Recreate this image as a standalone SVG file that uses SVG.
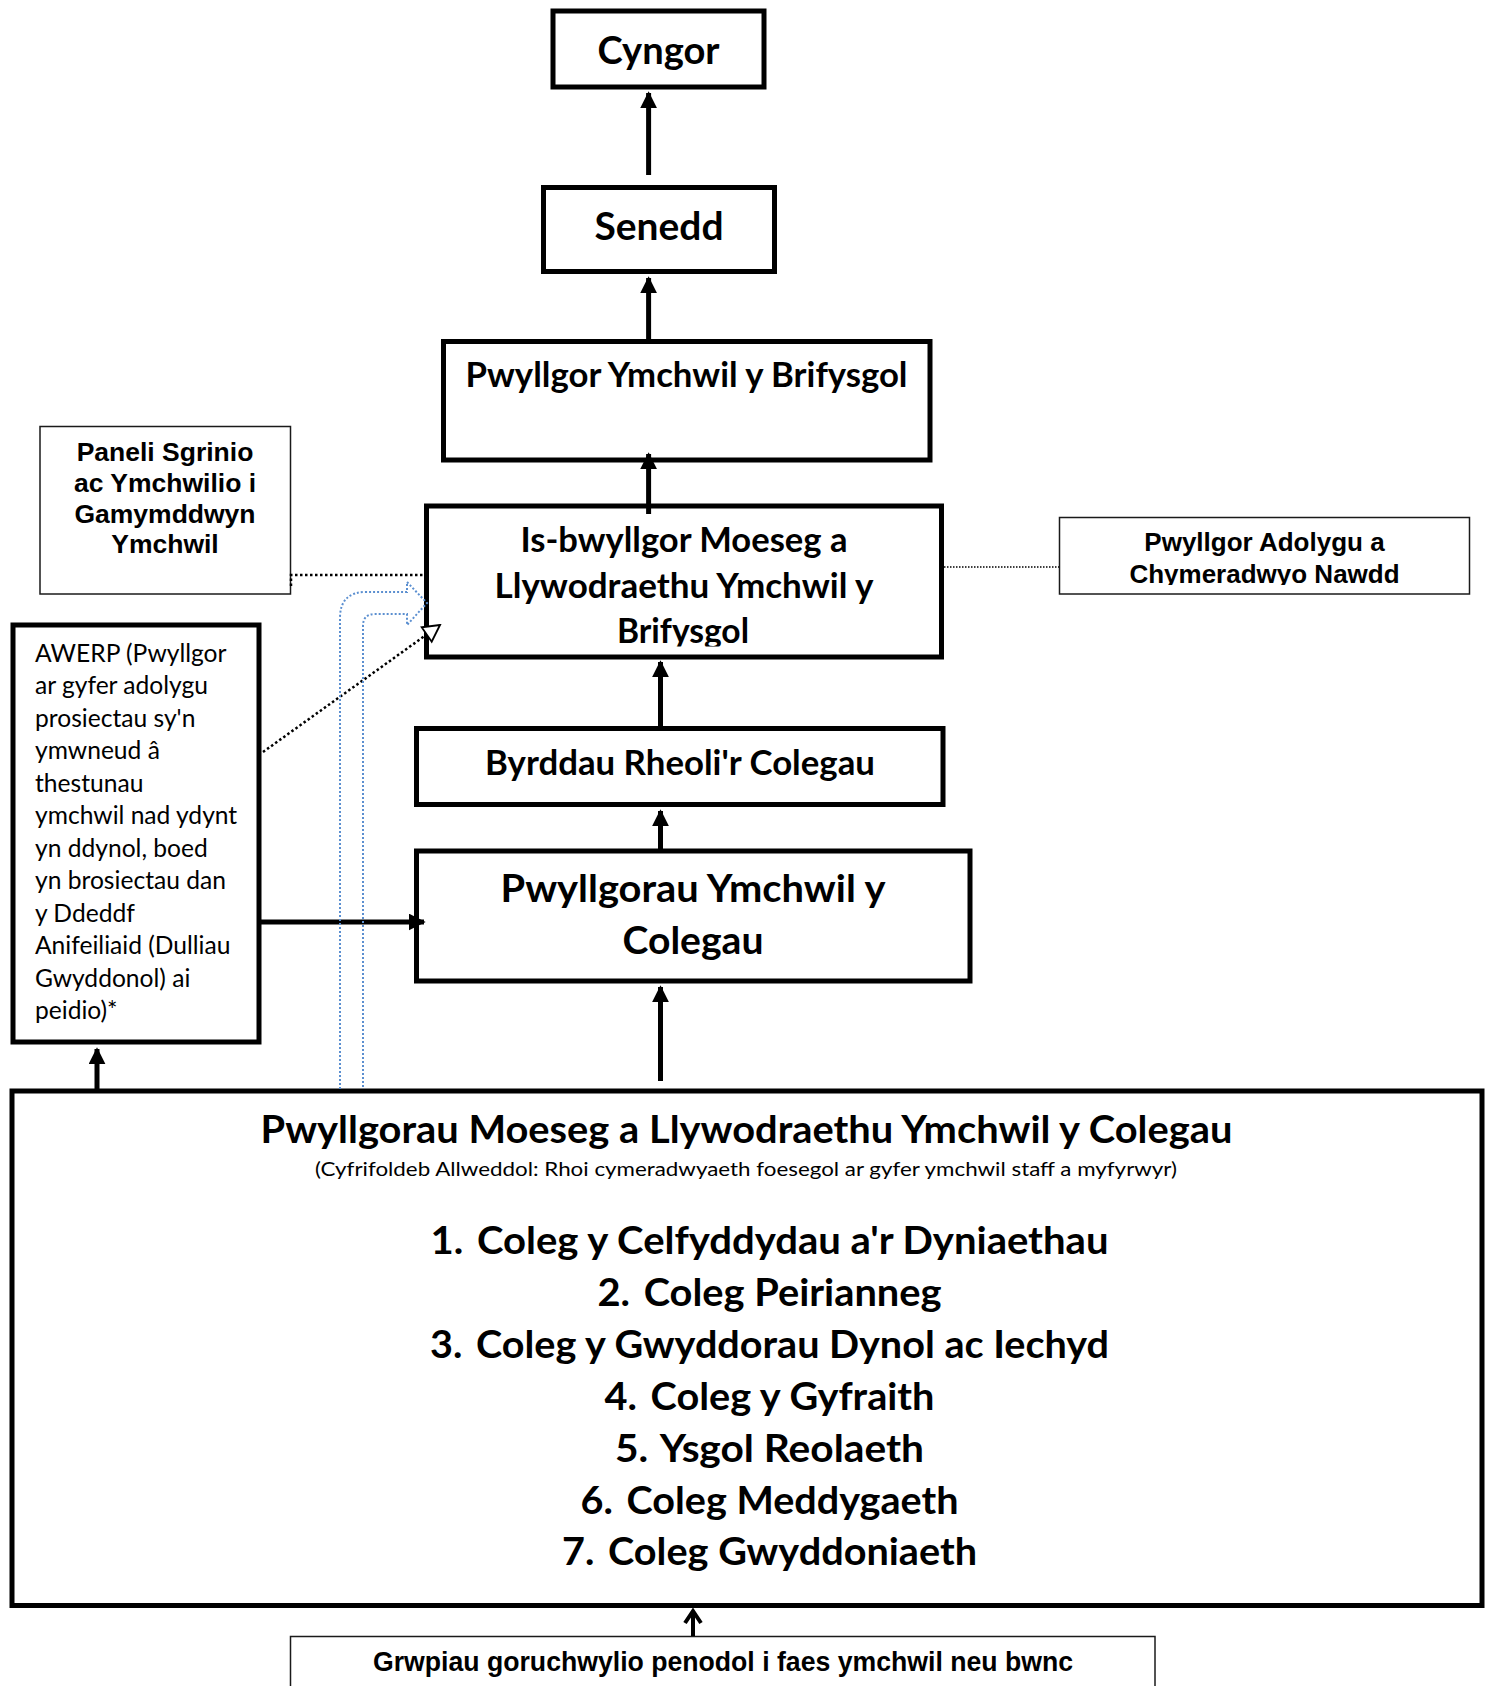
<svg xmlns="http://www.w3.org/2000/svg" width="1491" height="1686" viewBox="0 0 1491 1686">
<style>
  .box{fill:#fff;stroke:#000;stroke-width:5}
  .thin{fill:#fff;stroke:#1a1a1a;stroke-width:1.5}
  .hb{font-family:Lato,"Open Sans","Noto Sans",sans-serif;font-weight:bold;fill:#000;text-anchor:middle}
  .hr{font-family:Lato,"Open Sans","Noto Sans",sans-serif;font-weight:normal;fill:#000}
  .ab{font-family:"Liberation Sans",Arial,sans-serif;font-weight:bold;fill:#000;text-anchor:middle}
  .conn{stroke:#000;stroke-width:5;fill:none}
  .dot{stroke:#000;stroke-width:2.5;stroke-dasharray:2.5 2.5;fill:none}
  .dotthin{stroke:#000;stroke-width:1.5;stroke-dasharray:1.5 1.5;fill:none}
  .blue{stroke:#5b8fd0;stroke-width:2;stroke-dasharray:2 2;fill:none}
</style>
<defs>
  <marker id="ah" viewBox="0 0 10 10" refX="9" refY="5" markerWidth="3.4" markerHeight="3.4" markerUnits="strokeWidth" orient="auto">
    <path d="M0,0 L10,5 L0,10 z" fill="#000"/>
  </marker>
  <clipPath id="clipIs"><rect x="420" y="500" width="530" height="146.5"/></clipPath>
  <clipPath id="clipAd"><rect x="1055" y="510" width="420" height="75"/></clipPath>
</defs>

<g id="node-cyngor">
  <rect class="box" x="553" y="11" width="211" height="76"/>
  <text class="hb" x="658.5" y="64" font-size="37.5" textLength="122" lengthAdjust="spacingAndGlyphs">Cyngor</text>
</g>

<g id="node-senedd">
  <rect class="box" x="543.5" y="187.5" width="231" height="84"/>
  <text class="hb" x="659" y="240" font-size="37.5" textLength="129" lengthAdjust="spacingAndGlyphs">Senedd</text>
</g>

<g id="node-pwyllgor-ymchwil-brifysgol">
  <rect class="box" x="443.5" y="341.5" width="486.5" height="118.5"/>
  <text class="hb" x="686.5" y="387" font-size="33.5" textLength="442" lengthAdjust="spacingAndGlyphs">Pwyllgor Ymchwil y Brifysgol</text>
</g>

<g id="node-is-bwyllgor">
  <rect class="box" x="426.5" y="506" width="515" height="151"/>
  <g clip-path="url(#clipIs)">
    <text class="hb" x="684" y="552" font-size="33.5" textLength="327" lengthAdjust="spacingAndGlyphs">Is-bwyllgor Moeseg a</text>
    <text class="hb" x="684" y="598" font-size="33.5" textLength="379" lengthAdjust="spacingAndGlyphs">Llywodraethu Ymchwil y</text>
    <text class="hb" x="683" y="643" font-size="33.5" textLength="132" lengthAdjust="spacingAndGlyphs">Brifysgol</text>
  </g>
</g>

<g id="node-paneli">
  <rect class="thin" x="40" y="426.5" width="250.5" height="167.5"/>
  <text class="ab" x="165" y="461" font-size="26.5">Paneli Sgrinio</text>
  <text class="ab" x="165" y="492" font-size="26.5">ac Ymchwilio i</text>
  <text class="ab" x="165" y="523" font-size="26.5">Gamymddwyn</text>
  <text class="ab" x="165" y="553" font-size="26.5">Ymchwil</text>
</g>

<g id="node-adolygu">
  <rect class="thin" x="1059.5" y="517.5" width="410" height="76.5"/>
  <g clip-path="url(#clipAd)">
    <text class="ab" x="1264.5" y="551" font-size="26">Pwyllgor Adolygu a</text>
    <text class="ab" x="1264.5" y="583" font-size="26">Chymeradwyo Nawdd</text>
  </g>
</g>

<g id="node-awerp">
  <rect class="box" x="13" y="625" width="246" height="417"/>
  <g class="hr" font-size="24.6">
    <text x="35" y="661.5">AWERP (Pwyllgor</text>
    <text x="35" y="694">ar gyfer adolygu</text>
    <text x="35" y="726.5">prosiectau sy'n</text>
    <text x="35" y="759">ymwneud â</text>
    <text x="35" y="791.5">thestunau</text>
    <text x="35" y="824">ymchwil nad ydynt</text>
    <text x="35" y="856.5">yn ddynol, boed</text>
    <text x="35" y="889">yn brosiectau dan</text>
    <text x="35" y="921.5">y Ddeddf</text>
    <text x="35" y="954">Anifeiliaid (Dulliau</text>
    <text x="35" y="986.5">Gwyddonol) ai</text>
    <text x="35" y="1019">peidio)*</text>
  </g>
</g>

<g id="node-byrddau">
  <rect class="box" x="416.5" y="728.5" width="526.5" height="76"/>
  <text class="hb" x="680" y="774.5" font-size="33.5" textLength="390" lengthAdjust="spacingAndGlyphs">Byrddau Rheoli'r Colegau</text>
</g>

<g id="node-pwyllgorau-ymchwil">
  <rect class="box" x="416.5" y="851" width="553.5" height="130"/>
  <text class="hb" x="693" y="902" font-size="38" textLength="385" lengthAdjust="spacingAndGlyphs">Pwyllgorau Ymchwil y</text>
  <text class="hb" x="693" y="954" font-size="38" textLength="141" lengthAdjust="spacingAndGlyphs">Colegau</text>
</g>

<g id="node-pwyllgorau-moeseg">
  <rect class="box" x="12" y="1091" width="1470" height="514.5"/>
  <text class="hb" x="746.5" y="1142.5" font-size="38.5" textLength="972" lengthAdjust="spacingAndGlyphs">Pwyllgorau Moeseg a Llywodraethu Ymchwil y Colegau</text>
  <text class="hr" x="746" y="1176" font-size="19.5" text-anchor="middle" textLength="862" lengthAdjust="spacingAndGlyphs">(Cyfrifoldeb Allweddol: Rhoi cymeradwyaeth foesegol ar gyfer ymchwil staff a myfyrwyr)</text>
  <g font-size="38.5">
    <text class="hb" x="769.5" y="1254" textLength="678" lengthAdjust="spacingAndGlyphs">1.<tspan dx="14">Coleg y Celfyddydau a'r Dyniaethau</tspan></text>
    <text class="hb" x="769.5" y="1306" textLength="344" lengthAdjust="spacingAndGlyphs">2.<tspan dx="14">Coleg Peirianneg</tspan></text>
    <text class="hb" x="769.5" y="1357.5" textLength="679" lengthAdjust="spacingAndGlyphs">3.<tspan dx="14">Coleg y Gwyddorau Dynol ac Iechyd</tspan></text>
    <text class="hb" x="769.5" y="1410" textLength="330" lengthAdjust="spacingAndGlyphs">4.<tspan dx="14">Coleg y Gyfraith</tspan></text>
    <text class="hb" x="769.5" y="1462" textLength="309" lengthAdjust="spacingAndGlyphs">5.<tspan dx="14">Ysgol Reolaeth</tspan></text>
    <text class="hb" x="769.5" y="1513.5" textLength="378" lengthAdjust="spacingAndGlyphs">6.<tspan dx="14">Coleg Meddygaeth</tspan></text>
    <text class="hb" x="769.5" y="1565" textLength="415" lengthAdjust="spacingAndGlyphs">7.<tspan dx="14">Coleg Gwyddoniaeth</tspan></text>
  </g>
</g>

<g id="node-grwpiau">
  <rect class="thin" x="290.5" y="1636.5" width="864.5" height="100"/>
  <text class="ab" x="723" y="1670.5" font-size="27" textLength="700" lengthAdjust="spacingAndGlyphs">Grwpiau goruchwylio penodol i faes ymchwil neu bwnc</text>
</g>

<g id="connectors">
  <line class="conn" x1="648.6" y1="175" x2="648.6" y2="93" marker-end="url(#ah)"/>
  <line class="conn" x1="648.6" y1="340" x2="648.6" y2="278" marker-end="url(#ah)"/>
  <line class="conn" x1="648.6" y1="514" x2="648.6" y2="454" marker-end="url(#ah)"/>
  <line class="conn" x1="660.5" y1="727" x2="660.5" y2="662" marker-end="url(#ah)"/>
  <line class="conn" x1="660.5" y1="850" x2="660.5" y2="811" marker-end="url(#ah)"/>
  <line class="conn" x1="660.5" y1="1081" x2="660.5" y2="987" marker-end="url(#ah)"/>
  <line class="conn" x1="97" y1="1089" x2="97" y2="1049" marker-end="url(#ah)"/>
  <line class="conn" x1="261" y1="922" x2="424" y2="922" marker-end="url(#ah)"/>
  <line stroke="#000" stroke-width="4" x1="693" y1="1636" x2="693" y2="1611"/>
  <polyline points="685,1623 693,1611 701,1623" fill="none" stroke="#000" stroke-width="4"/>
  <polyline class="dot" points="291,586 291,575 424,575"/>
  <line class="dotthin" x1="944" y1="567" x2="1059" y2="567"/>
  <line class="dot" stroke-width="2" x1="263" y1="752" x2="426.7" y2="634.5"/>
  <polygon points="440,625 421.7,627.3 431.7,641.7" fill="#fff" stroke="#000" stroke-width="1.8" stroke-linejoin="miter"/>
  <path class="blue" d="M340,1089 L340,618 Q340,592 366,592 L407,592 L407,582 L427,603 L407,625 L407,614 L375,614 Q363,614 363,626 L363,1089"/>
</g>
</svg>
